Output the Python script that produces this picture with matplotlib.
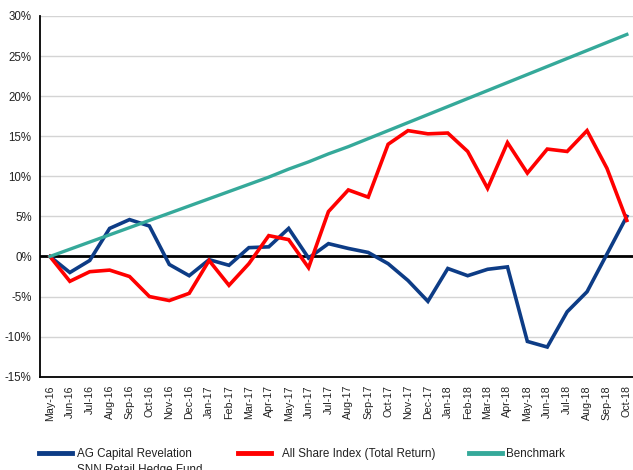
import matplotlib
matplotlib.use('Agg')
import matplotlib.pyplot as plt
from matplotlib.lines import Line2D
from matplotlib.ticker import FuncFormatter

plt.rcParams['font.family'] = ['Liberation Sans', 'DejaVu Sans']

# 月份标签
months = ['May-16', 'Jun-16', 'Jul-16', 'Aug-16', 'Sep-16', 'Oct-16', 'Nov-16', 'Dec-16',
          'Jan-17', 'Feb-17', 'Mar-17', 'Apr-17', 'May-17', 'Jun-17', 'Jul-17', 'Aug-17',
          'Sep-17', 'Oct-17', 'Nov-17', 'Dec-17', 'Jan-18', 'Feb-18', 'Mar-18', 'Apr-18',
          'May-18', 'Jun-18', 'Jul-18', 'Aug-18', 'Sep-18', 'Oct-18']

# 累计收益 (%)
ag_capital = [0, -2.0, -0.5, 3.5, 4.6, 3.8, -1.0, -2.4, -0.4, -1.1, 1.1, 1.2, 3.5, -0.2,
              1.6, 1.0, 0.5, -0.9, -3.0, -5.6, -1.5, -2.4, -1.6, -1.3, -10.6, -11.3,
              -6.9, -4.4, 0.3, 5.0]
all_share = [0, -3.1, -1.9, -1.7, -2.5, -5.0, -5.5, -4.6, -0.5, -3.6, -0.9, 2.6, 2.1, -1.4,
             5.6, 8.3, 7.4, 14.0, 15.7, 15.3, 15.4, 13.1, 8.5, 14.2, 10.4, 13.4, 13.1,
             15.7, 11.0, 4.5]
benchmark = [0, 0.9, 1.8, 2.7, 3.6, 4.5, 5.4, 6.3, 7.2, 8.1, 9.0, 9.9, 10.9, 11.8, 12.8,
             13.7, 14.7, 15.7, 16.7, 17.7, 18.7, 19.7, 20.7, 21.7, 22.7, 23.7, 24.7, 25.7,
             26.7, 27.7]

labels = ['AG Capital Revelation\nSNN Retail Hedge Fund', 'All Share Index (Total Return)', 'Benchmark']
colors = ['#0d3c86', '#ff0000', '#35a99a']

W, H = 633, 470
fig = plt.figure(figsize=(W / 100, H / 100), dpi=100)
ax = fig.add_axes([40 / W, 1 - 376.7 / H, (W - 40) / W, (376.7 - 16) / H])

x = list(range(len(months)))
ax.plot(x, ag_capital, color=colors[0], lw=2.6, zorder=3, solid_joinstyle='miter')
ax.plot(x, all_share, color=colors[1], lw=2.6, zorder=4, solid_joinstyle='miter')
ax.plot(x, benchmark, color=colors[2], lw=2.4, zorder=5)
ax.axhline(0, color='black', lw=2.0, zorder=2)

ax.set_ylim(-15, 30)
ax.set_xlim(-0.5, 29.31)
ax.set_yticks(range(-15, 31, 5))
ax.yaxis.set_major_formatter(FuncFormatter(lambda v, p: '%d%%' % v))
ax.set_xticks(x)
ax.set_xticklabels(months, rotation=90, fontsize=7.7)
ax.tick_params(axis='both', length=0, colors='#222222')
ax.tick_params(axis='y', labelsize=8.3, pad=6)
ax.tick_params(axis='x', pad=6)

ax.grid(axis='y', color='#d4d4d4', lw=1, zorder=1)
ax.set_axisbelow(True)
for s in ['top', 'right']:
    ax.spines[s].set_visible(False)
ax.spines['left'].set_linewidth(1.3)
ax.spines['bottom'].set_linewidth(1.3)

# 图例 (手动放置)
handle_x = [39, 238, 469]
text_x = [77, 282, 506]
leg_y = 452.7
base_y = 456.7
pitch = 16.6
for hx, tx, lab, c in zip(handle_x, text_x, labels, colors):
    fig.add_artist(Line2D([hx / W, (hx + 33) / W], [1 - leg_y / H] * 2, color=c, lw=3.5))
    y_last = base_y + pitch * lab.count('\n')
    fig.text(tx / W, 1 - y_last / H, lab, fontsize=8.4, va='baseline', ha='left',
             color='#222222', linespacing=1.45)

fig.savefig('out.png', dpi=100)
